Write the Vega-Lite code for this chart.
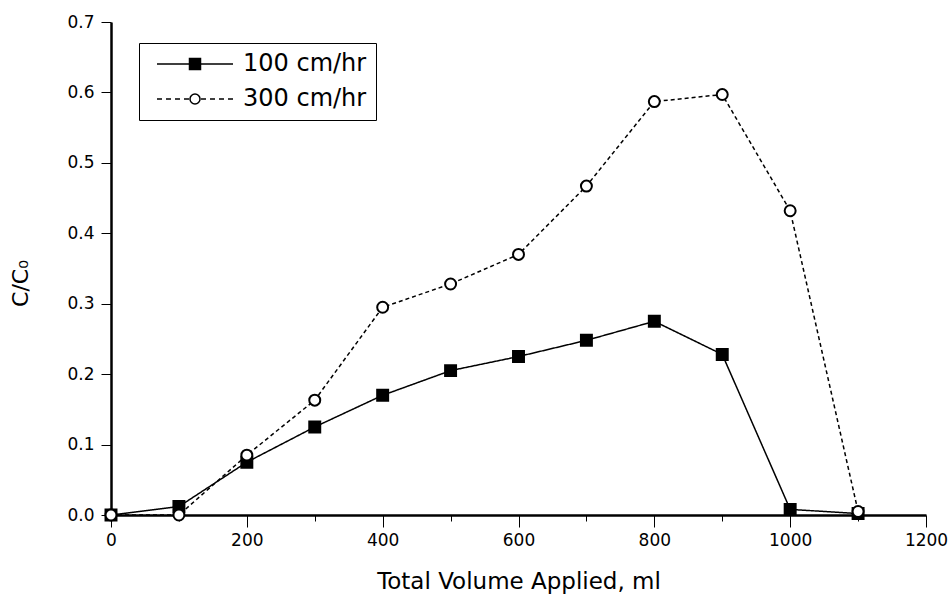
{
  "$schema": "https://vega.github.io/schema/vega-lite/v6.json",
  "width": 815,
  "height": 493,
  "autosize": {"type": "none"},
  "padding": {"left": 111, "top": 22, "right": 25, "bottom": 83},
  "background": "white",
  "config": {
    "view": {"stroke": null},
    "font": "DejaVu Sans",
    "axis": {"grid": false, "domainColor": "black", "labelColor": "black", "titleColor": "black", "domainWidth": 2.5, "labelFont": "DejaVu Sans", "titleFont": "DejaVu Sans", "titleFontWeight": "normal", "labelFlush": false, "labelOverlap": false}
  },
  "data": {
    "values": [
      {"series": "100 cm/hr", "volume": 0, "c": 0.0},
      {"series": "100 cm/hr", "volume": 100, "c": 0.012},
      {"series": "100 cm/hr", "volume": 200, "c": 0.075},
      {"series": "100 cm/hr", "volume": 300, "c": 0.125},
      {"series": "100 cm/hr", "volume": 400, "c": 0.17},
      {"series": "100 cm/hr", "volume": 500, "c": 0.205},
      {"series": "100 cm/hr", "volume": 600, "c": 0.225},
      {"series": "100 cm/hr", "volume": 700, "c": 0.248},
      {"series": "100 cm/hr", "volume": 800, "c": 0.275},
      {"series": "100 cm/hr", "volume": 900, "c": 0.228},
      {"series": "100 cm/hr", "volume": 1000, "c": 0.008},
      {"series": "100 cm/hr", "volume": 1100, "c": 0.002},
      {"series": "300 cm/hr", "volume": 0, "c": 0.0},
      {"series": "300 cm/hr", "volume": 100, "c": 0.0},
      {"series": "300 cm/hr", "volume": 200, "c": 0.085},
      {"series": "300 cm/hr", "volume": 300, "c": 0.163},
      {"series": "300 cm/hr", "volume": 400, "c": 0.295},
      {"series": "300 cm/hr", "volume": 500, "c": 0.328},
      {"series": "300 cm/hr", "volume": 600, "c": 0.37},
      {"series": "300 cm/hr", "volume": 700, "c": 0.467},
      {"series": "300 cm/hr", "volume": 800, "c": 0.587},
      {"series": "300 cm/hr", "volume": 900, "c": 0.597},
      {"series": "300 cm/hr", "volume": 1000, "c": 0.432},
      {"series": "300 cm/hr", "volume": 1100, "c": 0.005}
    ]
  },
  "layer": [
    {
      "mark": {"type": "line", "color": "black", "strokeWidth": 1.5},
      "encoding": {
        "x": {"field": "volume", "type": "quantitative", "scale": {"domain": [0, 1200], "nice": false},
          "axis": {"values": [0, 100, 200, 300, 400, 500, 600, 700, 800, 900, 1000, 1100, 1200], "labelExpr": "datum.value % 200 === 0 ? datum.label : ''", "format": "d", "ticks": true, "tickColor": "#000000", "tickSize": {"condition": {"test": "datum.value % 200 === 0", "value": 12}, "value": 6}, "labelFontSize": 17, "labelPadding": 5, "title": "Total Volume Applied, ml", "titleFontSize": 23, "titlePadding": 22}},
        "y": {"field": "c", "type": "quantitative", "scale": {"domain": [0, 0.7], "nice": false},
          "axis": {"values": [0, 0.05, 0.1, 0.15, 0.2, 0.25, 0.3, 0.35, 0.4, 0.45, 0.5, 0.55, 0.6, 0.65, 0.7], "format": ".1f", "labelExpr": "round(datum.value * 100) % 10 === 0 ? datum.label : ''", "ticks": true, "tickColor": "#000000", "tickSize": {"condition": {"test": "round(datum.value * 100) % 10 === 0", "value": 10}, "value": 5}, "labelFontSize": 17, "labelPadding": 7, "title": "C/C₀", "titleFontSize": 22, "titlePadding": 34, "titleY": 261}},
        "strokeDash": {"field": "series", "type": "nominal", "scale": {"domain": ["100 cm/hr", "300 cm/hr"], "range": [[1, 0], [4, 3]]}, "legend": null},
        "detail": {"field": "series"}
      }
    },
    {
      "mark": {"type": "point", "filled": true, "stroke": "black", "strokeWidth": 2, "opacity": 1, "size": 120},
      "encoding": {
        "x": {"field": "volume", "type": "quantitative"},
        "y": {"field": "c", "type": "quantitative"},
        "shape": {"field": "series", "type": "nominal", "scale": {"domain": ["100 cm/hr", "300 cm/hr"], "range": ["square", "circle"]}, "legend": null},
        "fill": {"field": "series", "type": "nominal", "scale": {"domain": ["100 cm/hr", "300 cm/hr"], "range": ["black", "white"]}, "legend": null}
      }
    },
    {
      "mark": {"type": "point", "filled": true, "opacity": 0, "size": 100},
      "encoding": {
        "x": {"field": "volume", "type": "quantitative"},
        "y": {"field": "c", "type": "quantitative"},
        "shape": {"field": "series", "type": "nominal", "scale": {"domain": ["100 cm/hr", "300 cm/hr"], "range": ["M-7.6,0H-1.1M1.1,0H7.6M-1.1,-1.1H1.1V1.1H-1.1Z", "M-7.6,0H-6.6M-5.8,0H-4.8M-4,0H-3M-2.2,0H-1.2M1.2,0H2.2M3,0H4M4.8,0H5.8M6.6,0H7.6M-1,0A1,1 0 1,0 1,0A1,1 0 1,0 -1,0Z"]},
          "legend": {"title": null, "orient": "none", "legendX": 28, "legendY": 21, "symbolOpacity": 1, "symbolStrokeColor": "black", "symbolStrokeWidth": 1.5, "symbolSize": 100, "symbolOffset": 35, "labelOffset": 36, "labelFontSize": 24, "labelFont": "DejaVu Sans", "labelColor": "black", "labelExpr": "datum.label + '\u00a0\u00a0'", "rowPadding": 11, "padding": 9, "strokeColor": "black", "fillColor": "white",
            "encode": {"symbols": {"update": {"stroke": {"value": "black"}, "strokeWidth": {"value": 1.5}, "opacity": {"value": 1}}}}}},
        "fill": {"field": "series", "type": "nominal", "scale": {"domain": ["100 cm/hr", "300 cm/hr"], "range": ["black", "white"]},
          "legend": {"title": null, "orient": "none", "legendX": 28, "legendY": 21, "symbolOpacity": 1, "symbolStrokeColor": "black", "symbolStrokeWidth": 1.5, "symbolSize": 100, "symbolOffset": 35, "labelOffset": 36, "labelFontSize": 24, "labelFont": "DejaVu Sans", "labelColor": "black", "labelExpr": "datum.label + '\u00a0\u00a0'", "rowPadding": 11, "padding": 9, "strokeColor": "black", "fillColor": "white",
            "encode": {"symbols": {"update": {"stroke": {"value": "black"}, "strokeWidth": {"value": 1.5}, "opacity": {"value": 1}}}}}}
      }
    }
  ],
  "resolve": {"scale": {"shape": "independent", "fill": "independent"}}
}
